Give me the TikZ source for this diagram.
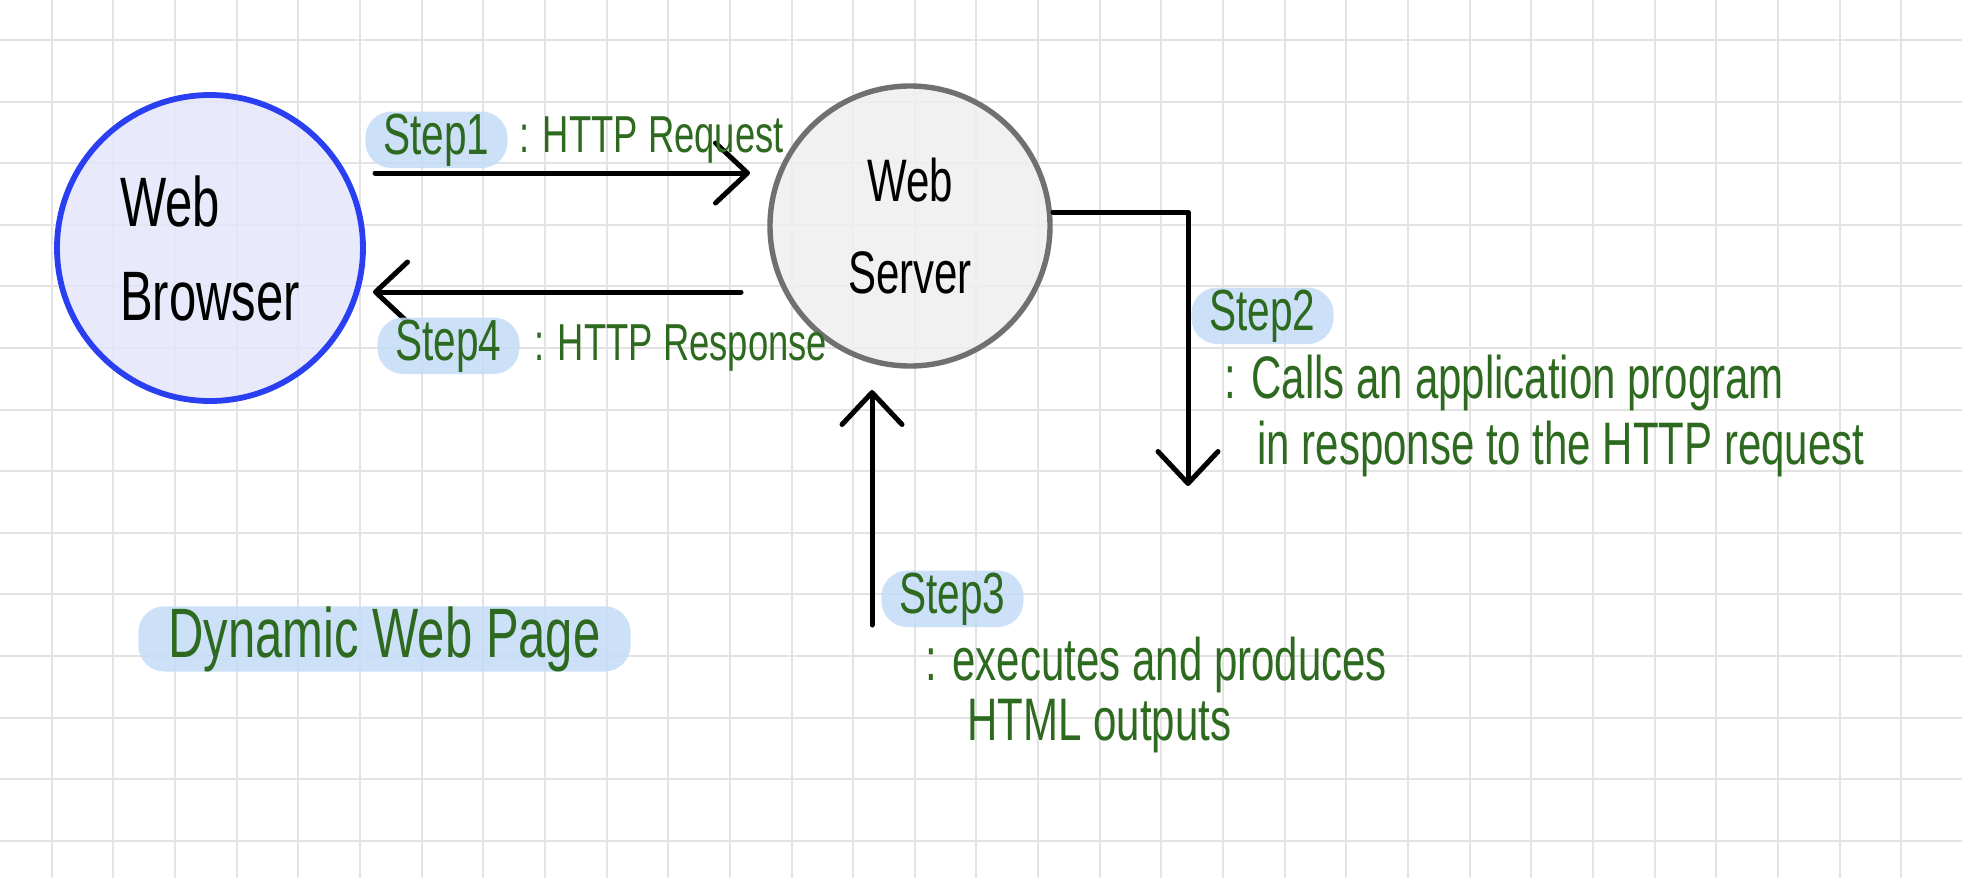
\documentclass[tikz,border=0pt]{standalone}
\usepackage{fontspec}
\usepackage{xcolor}
\usetikzlibrary{positioning, arrows.meta}
\newfontfamily\handfont[FakeStretch=0.7]{Liberation Sans}
\definecolor{gridgray}{HTML}{E3E3E3}
\definecolor{browserblue}{HTML}{2B3FF2}
\definecolor{browserfill}{HTML}{E4E6FA}
\definecolor{servergray}{HTML}{707070}
\definecolor{serverfill}{HTML}{EFEFEF}
\definecolor{notegreen}{HTML}{2D6A1F}
\definecolor{marker}{HTML}{C4DCF7}

\begin{document}
\begin{tikzpicture}[x=0.5pt, y=-0.5pt,
  gridline/.style = {draw=gridgray, line width=1pt},
  flow/.style = {line width=2.5pt, line cap=round, line join=round,
    -{Straight Barb[round, length=16pt, width=30pt]}},
  stepmark/.style = {fill=marker, fill opacity=0.85, text opacity=1,
    rounded corners=13pt, inner xsep=9pt, inner ysep=1pt, text=notegreen,
    font=\handfont\fontsize{29}{34}\selectfont, anchor=base west},
  note/.style = {inner sep=0pt, text=notegreen, align=left, anchor=base west,
    font=\handfont\fontsize{30}{34}\selectfont},
  httpnote/.style = {note, font=\handfont\fontsize{26}{30}\selectfont}]
\useasboundingbox (0,0) rectangle (1962,878);
\fill [white] (0,0) rectangle (1962,878);
\foreach \gx in {0,...,31}
  \draw [gridline] ({51.7+61.65*\gx},0) -- ++(0,878);
\foreach \gy in {0,...,13}
  \draw [gridline] (0,{40+61.6*\gy}) -- ++(1962,0);

\node [circle, draw=browserblue, line width=2.9pt, fill=browserfill,
  fill opacity=0.85, text opacity=1, minimum size=153pt, align=left,
  font=\handfont\fontsize{35}{47}\selectfont] (browser) at (210,248) {Web\\Browser};
\node [circle, draw=servergray, line width=2.7pt, fill=serverfill,
  fill opacity=0.85, text opacity=1, minimum size=140pt, align=center,
  font=\handfont\fontsize{30}{46}\selectfont] (server) at (910,226) {Web\\Server};

\coordinate (reqStart) at (375,173);
\coordinate (reqEnd) at (750,173);
\coordinate (resStart) at (741,292);
\coordinate (resEnd) at (373,292);
\coordinate (callStart) at (1053,212);
\coordinate (callBend) at (1188,212);
\coordinate (callEnd) at (1188,486);
\coordinate (execStart) at (872,625);
\coordinate (execEnd) at (872,390);

\draw [flow] (reqStart) -- (reqEnd);
\draw [flow] (resStart) -- (resEnd);
\draw [flow] (callStart) -- (callBend) -- (callEnd);
\draw [flow] (execStart) -- (execEnd);

\node [stepmark] (step1) at (365,154) {Step1};
\node [httpnote] (step1text) at (519,152) {: HTTP Request};
\node [stepmark] (step4) at (377,360) {Step4};
\node [httpnote] (step4text) at (534,360) {: HTTP Response};
\node [stepmark] (step2) at (1191,330) {Step2};
\node [note] (step2text) at (1224,398) {: Calls an application program};
\node [note] (step2more) at (1257,464) {in response to the HTTP request};
\node [stepmark] (step3) at (881,613) {Step3};
\node [note] (step3text) at (925,680) {: executes and produces};
\node [note] (step3more) at (967,740) {HTML outputs};

\node [stepmark, inner xsep=15pt, inner ysep=0pt,
  font=\handfont\fontsize{35}{40}\selectfont] (title) at (138,657) {Dynamic Web Page};
\end{tikzpicture}
\end{document}
